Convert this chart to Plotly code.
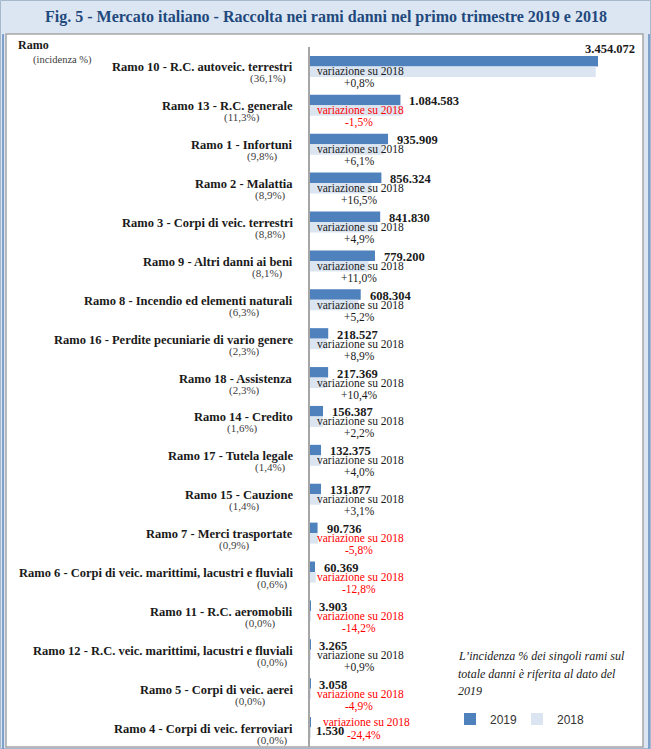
import plotly.graph_objects as go

# ---------------- data ----------------
categories = [
    "Ramo 10 - R.C. autoveic. terrestri",
    "Ramo 13 - R.C. generale",
    "Ramo 1 - Infortuni",
    "Ramo 2 - Malattia",
    "Ramo 3 - Corpi di veic. terrestri",
    "Ramo 9 - Altri danni ai beni",
    "Ramo 8 - Incendio ed elementi naturali",
    "Ramo 16 - Perdite pecuniarie di vario genere",
    "Ramo 18 - Assistenza",
    "Ramo 14 - Credito",
    "Ramo 17 - Tutela legale",
    "Ramo 15 - Cauzione",
    "Ramo 7 - Merci trasportate",
    "Ramo 6 - Corpi di veic. marittimi, lacustri e fluviali",
    "Ramo 11 - R.C. aeromobili",
    "Ramo 12 - R.C. veic. marittimi, lacustri e fluviali",
    "Ramo 5 - Corpi di veic. aerei",
    "Ramo 4 - Corpi di veic. ferroviari",
]
incidenza = ["36,1%", "11,3%", "9,8%", "8,9%", "8,8%", "8,1%", "6,3%", "2,3%", "2,3%",
             "1,6%", "1,4%", "1,4%", "0,9%", "0,6%", "0,0%", "0,0%", "0,0%", "0,0%"]
raccolta_2019 = [3454072, 1084583, 935909, 856324, 841830, 779200, 608304, 218527, 217369,
                 156387, 132375, 131877, 90736, 60369, 3903, 3265, 3058, 1530]
raccolta_2018 = [3426659, 1101099, 882101, 735042, 802507, 701982, 578236, 200668, 196892,
                 153021, 127284, 127911, 96323, 69231, 4549, 3236, 3216, 2024]
variazione = [0.8, -1.5, 6.1, 16.5, 4.9, 11.0, 5.2, 8.9, 10.4,
              2.2, 4.0, 3.1, -5.8, -12.8, -14.2, 0.9, -4.9, -24.4]

# ---------------- layout helpers (pixels) ----------------
W, H = 651, 749
L, R, T, B = 310, 640, 47, 747
def px(x):
    return (x - L) / (R - L)
def py(y):
    return (B - y) / (B - T)

SERIF = "Liberation Serif"
SANS = "Liberation Sans"
C2019 = "#4F81BD"
C2018 = "#DBE5F1"
RED = "#FF0000"
DARK = "#1A1A1A"

def fmt_num(v):
    return f"{v:,}".replace(",", ".")
def fmt_pct(v):
    return f"{v:+.1f}%".replace(".", ",")

# right edge (px) of the "(incidenza)" sub-labels, as placed in the original
pct_right_px = [288, 262, 280, 288, 288, 285, 262, 262, 262, 260, 288, 262, 252, 290, 278, 290, 268, 290]

fig = go.Figure()
fig.add_trace(go.Bar(name="2019", y=categories, x=raccolta_2019, orientation="h",
                     marker=dict(color=C2019, line=dict(width=0)), hoverinfo="skip"))
fig.add_trace(go.Bar(name="2018", y=categories, x=raccolta_2018, orientation="h",
                     marker=dict(color=C2018, line=dict(width=0)), hoverinfo="skip"))

ann = []
n = len(categories)
for i, cat in enumerate(categories):
    neg = variazione[i] < 0
    col = RED if neg else DARK
    vx_shift, vy_shift, v_anchor = 7, 4, "left"
    var_xshift, var_yshift = 5, -5
    pct_xshift, pct_yshift = 49, -17.5
    if i == 0:
        vx_shift, vy_shift, v_anchor = 39, 17, "right"
    if i == n - 1:
        vx_shift, vy_shift = 4, -3
        var_xshift, var_yshift = 11, 6
        pct_xshift, pct_yshift = 54, -8
    ann.append(dict(x=raccolta_2019[i], y=cat, xref="x", yref="y", text=f"<b>{fmt_num(raccolta_2019[i])}</b>",
                    showarrow=False, xanchor=v_anchor, yanchor="middle", xshift=vx_shift, yshift=vy_shift,
                    font=dict(family=SERIF, size=12.5, color=DARK)))
    ann.append(dict(x=0, y=cat, xref="x", yref="y", text="variazione su 2018",
                    showarrow=False, xanchor="left", yanchor="middle", xshift=var_xshift, yshift=var_yshift,
                    font=dict(family=SERIF, size=11.5, color=col)))
    ann.append(dict(x=0, y=cat, xref="x", yref="y", text=fmt_pct(variazione[i]),
                    showarrow=False, xanchor="center", yanchor="middle", xshift=pct_xshift, yshift=pct_yshift,
                    font=dict(family=SERIF, size=11.5, color=col)))
    ann.append(dict(x=0, y=cat, xref="paper", yref="y", text=f"<b>{cat}</b>",
                    showarrow=False, xanchor="right", yanchor="middle", xshift=-15, yshift=-1,
                    font=dict(family=SERIF, size=12.5, color=DARK)))
    ann.append(dict(x=0, y=cat, xref="paper", yref="y", text=f"({incidenza[i]})",
                    showarrow=False, xanchor="right", yanchor="middle", xshift=pct_right_px[i] - L, yshift=-12.5,
                    font=dict(family=SERIF, size=11, color="#404040")))

ann.append(dict(x=px(326), y=py(17), xref="paper", yref="paper", showarrow=False,
                text="<b>Fig. 5 - Mercato italiano - Raccolta nei rami danni nel primo trimestre 2019 e 2018</b>",
                xanchor="center", yanchor="middle", font=dict(family=SERIF, size=16, color="#1F497D")))
ann.append(dict(x=px(16), y=py(45), xref="paper", yref="paper", showarrow=False, text="<b>Ramo</b>",
                xanchor="left", yanchor="middle", font=dict(family=SERIF, size=12, color=DARK)))
ann.append(dict(x=px(31), y=py(60), xref="paper", yref="paper", showarrow=False, text="(incidenza %)",
                xanchor="left", yanchor="middle", font=dict(family=SERIF, size=10.5, color="#404040")))
note_lines = ["L’incidenza % dei singoli rami sul", "totale danni è riferita al dato del", "2019"]
for k, line in enumerate(note_lines):
    ann.append(dict(x=px(456), y=py(656 + 17.5 * k), xref="paper", yref="paper", showarrow=False,
                    text=f"<i>{line}</i>", xanchor="left", yanchor="middle",
                    font=dict(family=SERIF, size=12, color=DARK)))

shapes = [
    dict(type="rect", xref="paper", yref="paper", x0=px(0.5), x1=px(650.5), y0=py(748.5), y1=py(0.5),
         fillcolor="#DCE6F2", line=dict(color="#A6B8CC", width=1), layer="below"),
    dict(type="line", xref="paper", yref="paper", x0=px(3), x1=px(3), y0=py(749), y1=py(34),
         line=dict(color="#7FA1CC", width=2), layer="below"),
    dict(type="line", xref="paper", yref="paper", x0=px(649), x1=px(649), y0=py(749), y1=py(34),
         line=dict(color="#7FA1CC", width=2), layer="below"),
    dict(type="rect", xref="paper", yref="paper", x0=px(6), x1=px(643), y0=py(747), y1=py(34),
         fillcolor="white", line=dict(color="#A6A6A6", width=1.5), layer="below"),
]

fig.update_layout(
    width=W, height=H,
    margin=dict(l=L, r=W - R, t=T, b=H - B, pad=0, autoexpand=False),
    paper_bgcolor="#DCE6F2", plot_bgcolor="rgba(0,0,0,0)",
    barmode="group", bargap=0.46, bargroupgap=0,
    showlegend=True,
    legend=dict(orientation="h", x=px(450), y=py(719), xanchor="left", yanchor="middle",
                traceorder="normal", font=dict(family=SANS, size=12, color="#333333"),
                bgcolor="rgba(0,0,0,0)", itemwidth=30, entrywidth=22, entrywidthmode="pixels",
                tracegroupgap=0),
    xaxis=dict(range=[0, 3454072 * (R - L) / 288], visible=False, fixedrange=True, automargin=False),
    yaxis=dict(range=[len(categories) - 0.5, -0.5], autorange=False, showticklabels=False, ticks="",
               showgrid=False, zeroline=False, showline=True, linecolor="#A6A6A6", linewidth=2,
               fixedrange=True, automargin=False),
    annotations=ann, shapes=shapes,
    font=dict(family=SERIF),
)

fig.write_html("out.html", config={"displayModeBar": False},
               post_script="document.body.style.margin='0';document.body.style.overflow='hidden';")
